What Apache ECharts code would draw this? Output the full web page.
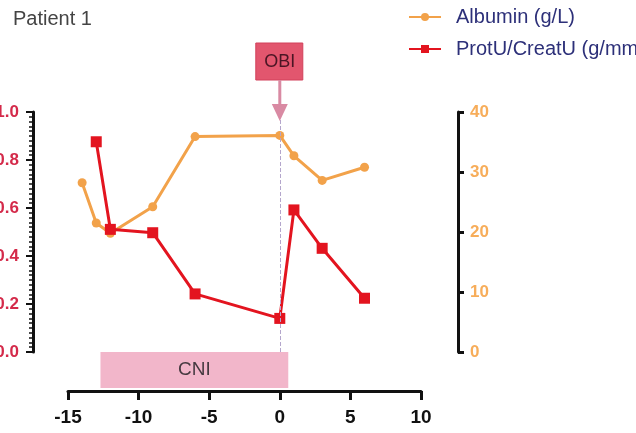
<!DOCTYPE html>
<html>
<head>
<meta charset="utf-8">
<script src="https://cdn.jsdelivr.net/npm/echarts@6/dist/echarts.min.js"></script>
<style>html,body{margin:0;padding:0;background:#fff;}#c{width:636px;height:433px;}</style>
</head>
<body>
<div id="c"></div>
<script>
var albuminDays = [-14, -13, -12, -9, -6, 0, 1, 3, 6];
var albuminVals = [28.2, 21.5, 19.8, 24.2, 35.9, 36.1, 32.7, 28.6, 30.8];
var protDays = [-13, -12, -9, -6, 0, 1, 3, 6];
var protVals = [0.876, 0.511, 0.497, 0.242, 0.140, 0.592, 0.432, 0.224];
var xTicks = [-15, -10, -5, 0, 5, 10];
var obiDay = 0;
var cniRange = [-12.7, 0.6];

var FONT = 'Liberation Sans, Arial, sans-serif';
var chart = echarts.init(document.getElementById('c'));
chart.setOption({
  animation: false,
  backgroundColor: '#fff',
  title: {
    text: 'Patient 1', left: 8, top: 4,
    textStyle: {fontFamily: FONT, fontSize: 20, fontWeight: 'normal', color: '#444'}
  },
  legend: {
    orient: 'vertical', left: 403, top: 2, itemGap: 12,
    itemWidth: 32, itemHeight: 10,
    textStyle: {fontFamily: FONT, fontSize: 20, color: '#2d3079', padding: [0, 0, 0, 10]},
    data: ['Albumin (g/L)', 'ProtU/CreatU (g/mmol)']
  },
  grid: {left: 68, right: 215, top: 112, bottom: 81, containLabel: false, outerBoundsMode: 'none'},
  xAxis: {
    type: 'value', min: xTicks[0], max: xTicks[xTicks.length - 1], interval: 5,
    offset: 39,
    axisLine: {show: true, onZero: false, lineStyle: {color: '#111', width: 3}},
    axisTick: {show: true, length: 9, lineStyle: {color: '#111', width: 3}},
    axisLabel: {fontFamily: FONT, fontSize: 19, fontWeight: 'bold', color: '#111', margin: 17},
    splitLine: {show: false}
  },
  yAxis: [
    {
      type: 'value', position: 'left', min: 0, max: 1, interval: 0.2, offset: 35,
      axisLine: {show: true, onZero: false, lineStyle: {color: '#111', width: 3}},
      axisTick: {show: true, length: 7, lineStyle: {color: '#111', width: 2}},
      minorTick: {show: true, splitNumber: 10, length: 4, lineStyle: {color: '#111', width: 1.5}},
      axisLabel: {fontFamily: FONT, fontSize: 17, fontWeight: 'bold', color: '#d42a4a', margin: 14,
        formatter: function (v) { return v.toFixed(1); }},
      splitLine: {show: false}, minorSplitLine: {show: false}
    },
    {
      type: 'value', position: 'right', min: 0, max: 40, interval: 10, offset: 37,
      axisLine: {show: true, onZero: false, lineStyle: {color: '#111', width: 3}},
      axisTick: {show: true, length: 6, lineStyle: {color: '#111', width: 3}},
      axisLabel: {fontFamily: FONT, fontSize: 17, fontWeight: 'bold', color: '#f7ad5a', margin: 12},
      splitLine: {show: false}
    }
  ],
  series: [
    {
      name: 'Albumin (g/L)', type: 'line', yAxisIndex: 1,
      data: albuminDays.map(function (d, i) { return [d, albuminVals[i]]; }),
      symbol: 'circle', symbolSize: 9,
      lineStyle: {color: '#f2a24a', width: 3},
      itemStyle: {color: '#f2a24a'}
    },
    {
      name: 'ProtU/CreatU (g/mmol)', type: 'line', yAxisIndex: 0,
      data: protDays.map(function (d, i) { return [d, protVals[i]]; }),
      symbol: 'rect', symbolSize: 11,
      lineStyle: {color: '#e3141f', width: 3},
      itemStyle: {color: '#e3141f'},
      markLine: {
        silent: true, symbol: 'none', label: {show: false},
        lineStyle: {color: '#b4a6cc', type: 'dashed', width: 1},
        data: [{xAxis: obiDay}]
      },
      z: 3
    }
  ]
});

var px0 = chart.convertToPixel({xAxisIndex: 0}, obiDay);
var cx1 = chart.convertToPixel({xAxisIndex: 0}, cniRange[0]);
var cx2 = chart.convertToPixel({xAxisIndex: 0}, cniRange[1]);
chart.setOption({
  graphic: [
    {type: 'rect', shape: {x: px0 - 24, y: 43, width: 47, height: 37},
     style: {fill: '#e2566e', stroke: '#d2405a', lineWidth: 1}, z: 10},
    {type: 'text', x: px0, y: 62,
     style: {text: 'OBI', fill: '#4a1524', font: '18px ' + FONT, align: 'center', verticalAlign: 'middle'}, z: 11},
    {type: 'line', shape: {x1: px0, y1: 80, x2: px0, y2: 106},
     style: {stroke: '#d98aa3', lineWidth: 3}, z: 10},
    {type: 'polygon', shape: {points: [[px0 - 8, 104], [px0 + 8, 104], [px0, 121]]},
     style: {fill: '#d98aa3'}, z: 10},
    {type: 'rect', shape: {x: cx1, y: 352, width: cx2 - cx1, height: 36},
     style: {fill: '#f2b6ca'}, z: 5},
    {type: 'text', x: (cx1 + cx2) / 2, y: 370,
     style: {text: 'CNI', fill: '#463a40', font: '19px ' + FONT, align: 'center', verticalAlign: 'middle'}, z: 6}
  ]
});
</script>
</body>
</html>
